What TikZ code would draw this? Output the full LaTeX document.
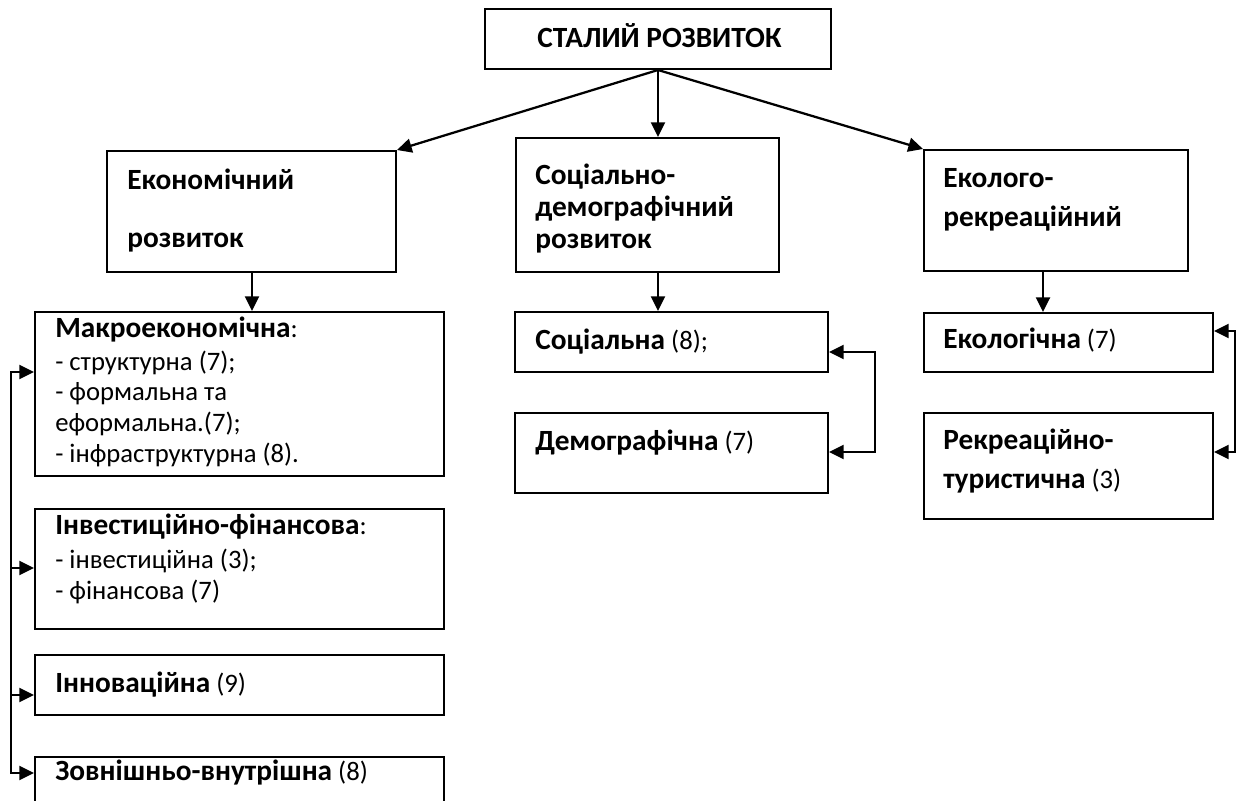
\documentclass[tikz,border=0pt]{standalone}
\usepackage{fontspec}
\setmainfont{Carlito}
\usetikzlibrary{arrows.meta}
\newcommand{\B}[1]{{\fontsize{22}{26}\selectfont\bfseries #1}}
\tikzset{
  box/.style={draw, line width=1.5pt, inner sep=0pt, anchor=north west},
  lbl/.style={anchor=base west, inner sep=0pt, font=\fontsize{20}{24}\selectfont},
  arr/.style={-{Triangle[length=11pt,width=10.5pt]}, line width=1.7pt},
  arrboth/.style={{Triangle[length=11pt,width=10.5pt]}-{Triangle[length=11pt,width=10.5pt]}, line width=1.7pt},
}
\newcommand{\bx}[5]{\node[box, minimum width={(#4-#2)*0.75pt}, minimum height={(#5-#3)*0.75pt}] (#1) at (#2,#3) {};}
\begin{document}
\begin{tikzpicture}[x=0.75pt,y=-0.75pt]
\useasboundingbox (0,0) rectangle (1238,800);
\clip (0,0) rectangle (1238,800);
% boxes
\bx{top}{484}{8}{830}{68}
\bx{econ}{106}{150}{395}{271}
\bx{soc}{515}{137}{778}{271}
\bx{eco}{923}{149}{1187}{270}
\bx{macro}{34}{311}{443}{475}
\bx{invest}{34}{508}{443}{628}
\bx{innov}{34}{654}{443}{714}
\bx{zovn}{34}{756}{443}{806}
\bx{socl}{514}{311}{827}{371}
\bx{demo}{514}{412}{827}{492}
\bx{ecol}{923}{312}{1212}{371}
\bx{rekr}{923}{412}{1212}{518}
% texts
\node[lbl] (t0) at (537,47) {\B{СТАЛИЙ РОЗВИТОК}};
\node[lbl] (t1) at (127,189) {\B{Економічний}};
\node[lbl] (t2) at (127,247) {\B{розвиток}};
\node[lbl] (t3) at (535,184) {\B{Соціально-}};
\node[lbl] (t4) at (535,216) {\B{демографічний}};
\node[lbl] (t5) at (535,248) {\B{розвиток}};
\node[lbl] (t6) at (943,187) {\B{Еколого-}};
\node[lbl] (t7) at (943,226) {\B{рекреаційний}};
\node[lbl] (m1) at (55,337) {\B{Макроекономічна}:};
\node[lbl] (m2) at (55,370) {- структурна (7);};
\node[lbl] (m3) at (55,400) {- формальна та};
\node[lbl] (m4) at (55,431) {еформальна.(7);};
\node[lbl] (m5) at (55,462) {- інфраструктурна (8).};
\node[lbl] (i1) at (55,534) {\B{Інвестиційно-фінансова}:};
\node[lbl] (i2) at (55,568) {- інвестиційна (3);};
\node[lbl] (i3) at (55,599) {- фінансова (7)};
\node[lbl] (n1) at (55,692) {\B{Інноваційна} (9)};
\node[lbl] (z1) at (55,780) {\B{Зовнішньо-внутрішна} (8)};
\node[lbl] (s1) at (535,349) {\B{Соціальна} (8);};
\node[lbl] (s2) at (535,450) {\B{Демографічна} (7)};
\node[lbl] (e1) at (943,348) {\B{Екологічна} (7)};
\node[lbl] (e2) at (943,449) {\B{Рекреаційно-}};
\node[lbl] (e3) at (943,488) {\B{туристична} (3)};
% connectors from top
\draw[arr] (top.south) -- (econ.north east);
\draw[arr] (top.south) -- (top.south |- soc.north);
\draw[arr] (top.south) -- (eco.north west);
% down arrows
\coordinate (ed) at (252,0);
\draw[arr] (econ.south -| ed) -- (macro.north -| ed);
\coordinate (sd) at (658,0);
\draw[arr] (soc.south -| sd) -- (socl.north -| sd);
\coordinate (kd) at (1043,0);
\draw[arr] (eco.south -| kd) -- (ecol.north -| kd);
% right-hand brackets
\coordinate (sa) at (875,352);
\coordinate (sb) at (875,452);
\draw[arrboth] (socl.east |- sa) -- (sa) -- (sb) -- (demo.east |- sb);
\coordinate (ea) at (1235,331);
\coordinate (eb) at (1235,452);
\draw[arrboth] (ecol.east |- ea) -- (ea) -- (eb) -- (rekr.east |- eb);
% left bracket
\coordinate (la) at (11,372);
\coordinate (lb) at (11,568);
\coordinate (lc) at (11,695);
\coordinate (ld) at (11,773);
\draw[arrboth] (macro.west |- la) -- (la) -- (ld) -- (zovn.west |- ld);
\draw[arr] (lb) -- (invest.west |- lb);
\draw[arr] (lc) -- (innov.west |- lc);
\end{tikzpicture}
\end{document}
